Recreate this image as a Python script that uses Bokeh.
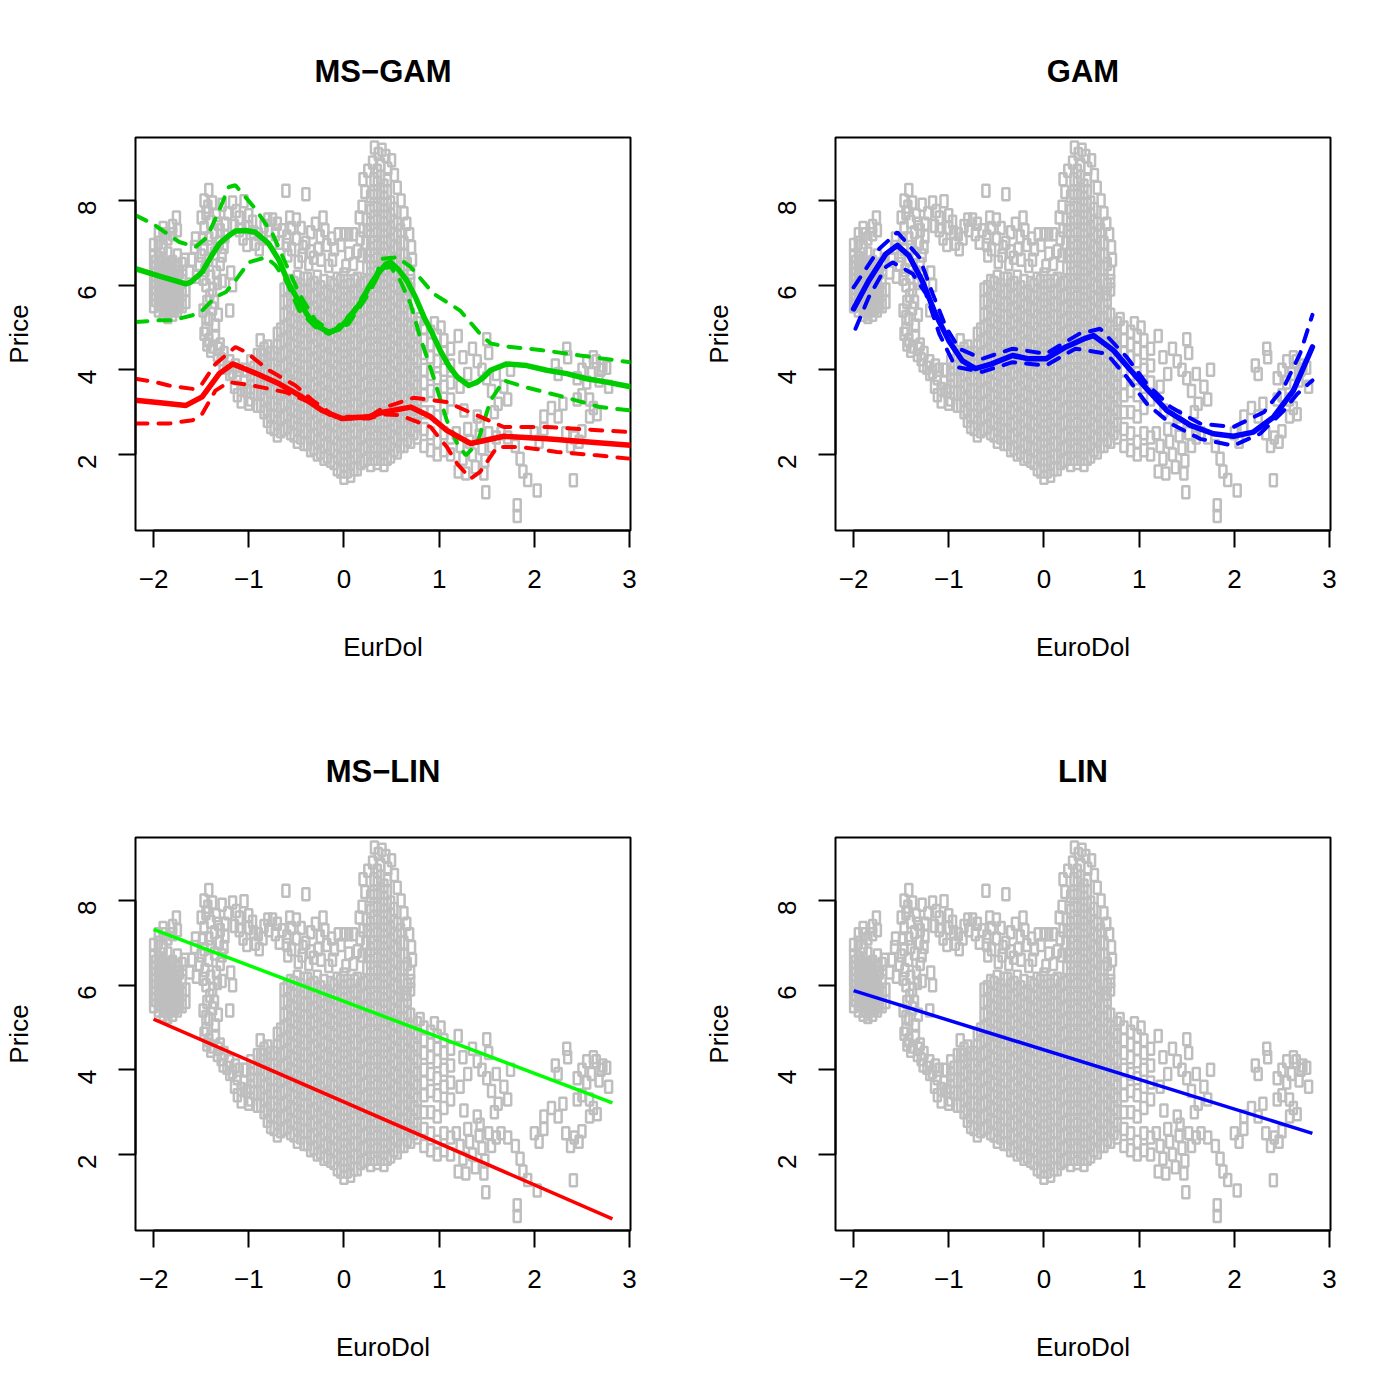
import math
from bokeh.plotting import figure
from bokeh.models import Range1d, FixedTicker
from bokeh.layouts import gridplot
from bokeh.embed import file_html
from bokeh.resources import INLINE

FONT = "Liberation Sans"

# ---------------- scatter data (EurDol, Price) ----------------
left_cluster = [(-2.0,5.5),(-2.0,5.8),(-2.0,6.1),(-2.0,6.4),(-2.0,6.7),(-2.0,6.95),
    (-1.95,5.4),(-1.95,5.65),(-1.95,5.9),(-1.95,6.15),(-1.95,6.4),(-1.95,6.65),(-1.95,7.0),(-1.95,7.2),
    (-1.9,5.3),(-1.9,5.55),(-1.9,5.8),(-1.9,6.05),(-1.9,6.3),(-1.9,6.6),(-1.9,6.9),(-1.9,7.2),(-1.9,7.35),
    (-1.85,5.25),(-1.85,5.5),(-1.85,5.75),(-1.85,6.0),(-1.85,6.25),(-1.85,6.5),(-1.85,6.75),(-1.85,7.1),
    (-1.8,5.3),(-1.8,5.55),(-1.8,5.8),(-1.8,6.05),(-1.8,6.3),(-1.8,6.55),(-1.8,7.2),(-1.8,7.4),
    (-1.75,5.4),(-1.75,5.7),(-1.75,5.95),(-1.75,6.2),(-1.75,6.45),(-1.75,6.7),(-1.75,7.3),(-1.76,7.6),
    (-1.7,5.5),(-1.7,5.8),(-1.7,6.1),(-1.7,6.5),(-1.66,5.6),(-1.66,5.9),(-1.67,6.6),
    (-1.98,5.65),(-1.98,5.95),(-1.98,6.25),(-1.98,6.55),(-1.93,5.55),(-1.93,5.8),(-1.93,6.05),(-1.93,6.3),
    (-1.93,6.55),(-1.88,5.4),(-1.88,5.65),(-1.88,5.9),(-1.88,6.15),(-1.88,6.45),(-1.83,5.4),(-1.83,5.65),
    (-1.83,5.9),(-1.83,6.15),(-1.83,6.4),(-1.78,5.45),(-1.78,5.7),(-1.78,5.95),(-1.78,6.2),(-1.73,5.55),
    (-1.73,5.85),(-1.73,6.3)]

second_cluster = [(-1.62,6.3),(-1.6,6.6),(-1.57,6.9),(-1.55,6.2),(-1.52,6.5),(-1.56,7.1),
    (-1.47,8.0),(-1.42,8.25),(-1.38,7.95),(-1.45,7.7),(-1.4,7.5),(-1.34,7.65),(-1.47,7.35),(-1.42,7.1),
    (-1.36,7.25),(-1.31,7.0),(-1.47,6.85),(-1.42,6.6),(-1.36,6.75),(-1.3,6.5),(-1.46,6.35),(-1.4,6.2),
    (-1.34,6.3),(-1.28,6.1),(-1.45,6.0),(-1.38,5.9),(-1.44,5.6),(-1.38,5.45),(-1.42,5.2),(-1.35,5.05),
    (-1.45,4.95),(-1.32,5.3),(-1.19,6.3),(-1.17,6.0),(-1.2,5.4),(-1.26,6.9),(-1.5,7.6),
    (-1.48,7.1),(-1.43,7.85),(-1.4,6.9),(-1.33,6.05),(-1.32,7.45),(-1.28,6.7),(-1.5,6.7),(-1.48,6.15),
    (-1.41,5.75),(-1.36,5.6),(-1.48,5.4),(-1.45,5.25)]

upper_arc = [(-1.28,7.9),(-1.22,7.7),(-1.25,7.45),(-1.17,7.95),(-1.05,7.98),(-1.1,7.6),(-1.1,7.3),
    (-1.0,7.35),(-1.06,7.1),(-1.02,6.95),(-0.96,7.5),(-0.9,7.2),(-0.93,6.98),(-0.89,6.85),(-0.84,7.4),
    (-0.79,7.3),(-0.75,7.55),(-0.72,7.2),(-0.65,7.3),(-0.6,7.15),(-0.61,8.23),(-0.4,8.15),(-0.57,7.6),
    (-0.5,7.55),(-0.45,7.35),(-0.5,7.1),(-0.43,6.9),(-0.6,6.95),(-0.59,6.7),(-0.44,6.7),(-0.37,6.5),
    (-0.32,6.65),(-0.3,7.45),(-0.22,7.6),(-0.25,7.15),(-0.18,6.95),(-0.27,6.85),(-0.24,6.6),(-0.16,6.45),
    (-0.12,6.6),(-0.06,7.2),(0.0,7.2),(0.05,7.2),(0.1,7.2),(-0.03,6.95),(0.05,6.75),(0.1,6.5),(0.02,6.45),
    (0.14,6.8),(0.11,6.1),(0.2,8.5),(0.22,8.2),(0.19,7.85),(0.24,7.55),(0.2,7.3),(0.23,7.0),(0.19,6.7),
    (0.24,6.4),(-1.3,7.3),(-1.25,7.15),(-1.15,7.4),(-1.13,7.75),(-1.0,7.65),(-0.95,7.25),(-0.85,7.1),
    (-0.8,7.55),(-0.7,7.45),(-0.68,7.0),(-0.55,7.35),(-0.55,6.85),(-0.48,6.55),(-0.4,7.0),(-0.35,7.25),
    (-0.35,6.8),(-0.2,7.3),(-0.1,6.85),(-0.13,7.1)]

spike_top = [(0.32,9.25),(0.36,9.1),(0.4,9.2),(0.44,9.05),(0.5,8.95),(0.46,8.75),(0.53,8.6),(0.56,8.3),
    (0.6,8.0),(0.63,7.7),(0.66,7.45),(0.69,7.2),(0.71,6.9),(0.72,6.6),(0.7,6.1),(0.66,5.8),(0.3,8.9),
    (0.28,8.1),(0.16,7.6),(0.17,7.1),(0.25,8.7)]

lower_band = [(-1.47,4.85),(-1.42,4.7),(-1.35,4.8),(-1.3,4.6),(-1.4,4.45),(-1.33,4.35),(-1.26,4.4),
    (-1.2,4.2),(-1.14,4.1),(-1.27,4.1),(-1.2,3.9),(-1.12,3.8),(-1.05,3.7),(-1.04,4.0),(-1.12,3.4),
    (-1.08,3.25),(-1.08,3.55),(-0.88,4.7),(-0.8,4.55),(-0.85,4.35),
    (-1.44,4.6),(-1.38,4.55),(-1.32,4.5),(-1.29,4.25),(-1.23,4.05),(-1.17,3.95),(-1.15,3.6),(-1.1,4.0),
    (-1.02,3.5),(-1.0,3.2)]

central_x = [-0.98, -0.91, -0.84, -0.77, -0.70, -0.63, -0.56, -0.49, -0.42, -0.35, -0.28, -0.21, -0.14,
             -0.07, 0.0, 0.07, 0.14, 0.21, 0.28, 0.35, 0.42, 0.49, 0.56, 0.63, 0.70, 0.77, 0.84, 0.91,
             0.98, 1.05, 1.12]
central_prices = [
    [3.3, 3.6, 3.9, 4.2],
    [3.15, 3.45, 3.75, 4.05, 4.35],
    [3.0, 3.3, 3.6, 3.9, 4.2, 4.5],
    [2.65, 2.9, 3.2, 3.5, 3.8, 4.1, 4.4],
    [2.45, 2.75, 3.05, 3.35, 3.65, 3.95, 4.25, 4.55, 4.85],
    [2.6, 2.9, 3.2, 3.5, 3.8, 4.1, 4.4, 4.7, 5.0, 5.3, 5.6, 5.9],
    [2.5, 2.8, 3.1, 3.4, 3.7, 4.0, 4.3, 4.6, 4.9, 5.2, 5.5, 5.8, 6.1],
    [2.3, 2.6, 2.9, 3.2, 3.5, 3.8, 4.1, 4.4, 4.7, 5.0, 5.3, 5.6, 5.9, 6.2],
    [2.25, 2.55, 2.85, 3.15, 3.45, 3.75, 4.05, 4.35, 4.65, 4.95, 5.25, 5.55, 5.85, 6.15],
    [2.1, 2.4, 2.7, 3.0, 3.3, 3.6, 3.9, 4.2, 4.5, 4.8, 5.1, 5.4, 5.7, 6.0],
    [2.0, 2.3, 2.6, 2.9, 3.2, 3.5, 3.8, 4.1, 4.4, 4.7, 5.0, 5.3, 5.6, 5.9, 6.2],
    [1.9, 2.2, 2.5, 2.8, 3.1, 3.4, 3.7, 4.0, 4.3, 4.6, 4.9, 5.2, 5.5, 5.8, 6.1],
    [1.85, 2.15, 2.45, 2.75, 3.05, 3.35, 3.65, 3.95, 4.25, 4.55, 4.85, 5.15, 5.45, 5.75, 6.05],
    [1.65, 1.95, 2.25, 2.55, 2.85, 3.15, 3.45, 3.75, 4.05, 4.35, 4.65, 4.95, 5.25, 5.55, 5.85, 6.15],
    [1.45, 1.75, 2.05, 2.35, 2.65, 2.95, 3.25, 3.55, 3.85, 4.15, 4.45, 4.75, 5.05, 5.35, 5.65, 5.95, 6.25],
    [1.5, 1.8, 2.1, 2.4, 2.7, 3.0, 3.3, 3.6, 3.9, 4.2, 4.5, 4.8, 5.1, 5.4, 5.7, 6.0],
    [1.65, 1.95, 2.25, 2.55, 2.85, 3.15, 3.45, 3.75, 4.05, 4.35, 4.65, 4.95, 5.25, 5.55, 5.85, 6.15],
    [1.85, 2.15, 2.45, 2.75, 3.05, 3.35, 3.65, 3.95, 4.25, 4.55, 4.85, 5.15, 5.45, 5.75, 6.05],
    [1.75, 2.05, 2.35, 2.65, 2.95, 3.25, 3.55, 3.85, 4.15, 4.45, 4.75, 5.05, 5.35, 5.65, 5.95, 6.25,
     6.55, 6.85, 7.15, 7.45, 7.75],
    [1.8, 2.1, 2.4, 2.7, 3.0, 3.3, 3.6, 3.9, 4.2, 4.5, 4.8, 5.1, 5.4, 5.7, 6.0, 6.3, 6.6, 6.9, 7.2, 7.5,
     7.8, 8.1, 8.4, 8.7],
    [1.75, 2.05, 2.35, 2.65, 2.95, 3.25, 3.55, 3.85, 4.15, 4.45, 4.75, 5.05, 5.35, 5.65, 5.95, 6.25,
     6.55, 6.85, 7.15, 7.45, 7.75, 8.05, 8.35],
    [1.95, 2.25, 2.55, 2.85, 3.15, 3.45, 3.75, 4.05, 4.35, 4.65, 4.95, 5.25, 5.55, 5.85, 6.15, 6.45,
     6.75, 7.05, 7.35, 7.65, 7.95],
    [2.05, 2.35, 2.65, 2.95, 3.25, 3.55, 3.85, 4.15, 4.45, 4.75, 5.05, 5.35, 5.65, 5.95, 6.25, 6.55,
     6.85, 7.15, 7.45],
    [2.2, 2.5, 2.8, 3.1, 3.4, 3.7, 4.0, 4.3, 4.6, 4.9, 5.2, 5.5, 5.8, 6.1, 6.4, 6.7, 7.0],
    [2.3, 2.6, 2.9, 3.2, 3.5, 3.8, 4.1, 4.4, 4.7, 5.0, 5.3, 5.9, 6.3],
    [2.4, 2.7, 3.0, 3.3, 3.6, 3.9, 4.2, 4.5, 4.8, 5.1],
    [2.2, 2.6, 3.0, 3.4, 3.7, 4.0, 4.4, 4.7, 5.0],
    [2.1, 2.5, 3.0, 3.5, 3.9, 4.3, 4.6, 4.9],
    [2.0, 2.3, 2.9, 3.4, 3.8, 4.2, 4.5, 4.8],
    [2.1, 2.5, 3.1, 3.6, 4.0, 4.4, 4.7],
    [2.0, 2.4, 3.3, 3.7, 4.1, 4.5],
]

# second, interleaved set of points in the dense central mass
central_x2 = [-0.945, -0.875, -0.805, -0.735, -0.665, -0.595, -0.525, -0.455, -0.385, -0.315, -0.245,
              -0.175, -0.105, -0.035, 0.035, 0.105, 0.175, 0.245, 0.315, 0.385, 0.455, 0.525, 0.595,
              0.665, 0.735]
central_prices2 = [
    [3.45, 3.75, 4.05],
    [3.15, 3.45, 3.75, 4.05, 4.35],
    [2.8, 3.05, 3.35, 3.65, 3.95, 4.25],
    [2.6, 2.9, 3.2, 3.5, 3.8, 4.1, 4.4],
    [2.55, 2.85, 3.15, 3.45, 3.75, 4.05, 4.35, 4.65, 4.95],
    [2.65, 2.95, 3.25, 3.55, 3.85, 4.15, 4.45, 4.75, 5.05, 5.35, 5.65, 5.95],
    [2.45, 2.75, 3.05, 3.35, 3.65, 3.95, 4.25, 4.55, 4.85, 5.15, 5.45, 5.75, 6.05],
    [2.4, 2.7, 3.0, 3.3, 3.6, 3.9, 4.2, 4.5, 4.8, 5.1, 5.4, 5.7, 6.0],
    [2.25, 2.55, 2.85, 3.15, 3.45, 3.75, 4.05, 4.35, 4.65, 4.95, 5.25, 5.55, 5.85, 6.15],
    [2.15, 2.45, 2.75, 3.05, 3.35, 3.65, 3.95, 4.25, 4.55, 4.85, 5.15, 5.45, 5.75, 6.05],
    [2.05, 2.35, 2.65, 2.95, 3.25, 3.55, 3.85, 4.15, 4.45, 4.75, 5.05, 5.35, 5.65, 5.95],
    [1.95, 2.25, 2.55, 2.85, 3.15, 3.45, 3.75, 4.05, 4.35, 4.65, 4.95, 5.25, 5.55, 5.85],
    [1.8, 2.1, 2.4, 2.7, 3.0, 3.3, 3.6, 3.9, 4.2, 4.5, 4.8, 5.1, 5.4, 5.7, 6.0],
    [1.6, 1.9, 2.2, 2.5, 2.8, 3.1, 3.4, 3.7, 4.0, 4.3, 4.6, 4.9, 5.2, 5.5, 5.8, 6.1],
    [1.6, 1.9, 2.2, 2.5, 2.8, 3.1, 3.4, 3.7, 4.0, 4.3, 4.6, 4.9, 5.2, 5.5, 5.8, 6.1],
    [1.65, 1.95, 2.25, 2.55, 2.85, 3.15, 3.45, 3.75, 4.05, 4.35, 4.65, 4.95, 5.25, 5.55, 5.85],
    [1.8, 2.1, 2.4, 2.7, 3.0, 3.3, 3.6, 3.9, 4.2, 4.5, 4.8, 5.1, 5.4, 5.7, 6.0],
    [1.9, 2.2, 2.5, 2.8, 3.1, 3.4, 3.7, 4.0, 4.3, 4.6, 4.9, 5.2, 5.5, 5.8, 6.1, 6.7, 7.3],
    [1.9, 2.2, 2.5, 2.8, 3.1, 3.4, 3.7, 4.0, 4.3, 4.6, 4.9, 5.2, 5.5, 5.8, 6.1, 6.4, 6.7, 7.0, 7.3,
     7.6, 7.9, 8.2, 8.5],
    [1.9, 2.2, 2.5, 2.8, 3.1, 3.4, 3.7, 4.0, 4.3, 4.6, 4.9, 5.2, 5.5, 5.8, 6.1, 6.4, 6.7, 7.0, 7.3,
     7.6, 7.9, 8.2, 8.55, 8.85],
    [1.9, 2.2, 2.5, 2.8, 3.1, 3.4, 3.7, 4.0, 4.3, 4.6, 4.9, 5.2, 5.5, 5.8, 6.1, 6.4, 6.7, 7.0, 7.3,
     7.6, 7.9, 8.2, 8.5],
    [2.1, 2.4, 2.7, 3.0, 3.3, 3.6, 3.9, 4.2, 4.5, 4.8, 5.1, 5.4, 5.7, 6.0, 6.3, 6.6, 6.9, 7.2, 7.5, 7.8],
    [2.2, 2.5, 2.8, 3.1, 3.4, 3.7, 4.0, 4.3, 4.6, 4.9, 5.2, 5.5, 5.8, 6.1, 6.4, 6.7, 7.0, 7.3],
    [2.35, 2.65, 2.95, 3.25, 3.55, 3.85, 4.15, 4.45, 4.75, 5.05, 5.35, 5.65, 6.0, 6.5],
    [2.5, 2.8, 3.1, 3.4, 3.7, 4.0, 4.3, 4.6, 4.9],
]

right_region = [(1.18,2.5),(1.22,2.2),(1.25,1.9),(1.3,2.6),(1.32,2.3),(1.35,2.0),(1.38,1.7),(1.42,2.45),
    (1.45,2.15),(1.48,1.85),(1.52,2.5),(1.55,2.2),(1.6,2.4),(1.2,1.6),(1.28,1.55),(1.26,3.04),(1.4,2.9),
    (1.43,2.7),(1.35,4.5),(1.4,4.2),(1.45,4.0),(1.5,4.72),(1.52,4.4),(1.5,3.8),(1.55,3.5),(1.6,3.9),
    (1.62,3.2),(1.68,3.6),(1.72,3.3),(1.75,4.0),(1.58,3.0),(1.2,4.8),(1.25,4.3),(1.22,3.6),(1.3,3.9),
    (1.47,1.55),(1.49,1.11),(1.65,2.5),(1.72,2.4),(1.8,2.2),(1.85,1.9),(1.88,1.6),(1.93,1.4),
    (1.82,0.8),(1.82,0.55),(2.03,1.15),(2.0,2.5),(2.05,2.3),(2.1,2.6),(2.1,2.9),(2.18,3.1),(2.25,2.9),
    (2.3,3.2),(2.22,4.1),(2.25,3.9),(2.34,4.5),(2.35,4.3),(2.33,2.5),(2.38,2.2),(2.42,2.4),(2.47,2.3),
    (2.5,2.55),(2.41,1.39),(2.5,4.0),(2.55,4.2),(2.6,3.9),(2.65,4.2),(2.7,4.0),(2.55,3.7),(2.62,4.3),
    (2.68,3.75),(2.72,4.1),(2.45,3.8),(2.5,3.4),(2.58,3.3),(2.62,3.1),(2.66,2.95),(2.76,4.05),
    (2.78,3.6),(2.45,3.3),(2.58,2.9),(0.8,5.2),(0.95,5.1),(1.02,5.0)]

# ---------------- fitted curves ----------------
msgam_g_x = [-2.19, -1.93, -1.66, -1.61, -1.49, -1.40, -1.31, -1.21, -1.14, -1.03, -0.93, -0.79, -0.68,
             -0.58, -0.47, -0.37, -0.26, -0.16, -0.05, 0.09, 0.19, 0.26, 0.33, 0.44, 0.49, 0.58, 0.66,
             0.75, 0.84, 0.93, 1.01, 1.10, 1.19, 1.31, 1.40, 1.47, 1.54, 1.71, 1.92, 2.13, 2.34, 2.55,
             2.76, 3.01]
msgam_g_y = [6.39, 6.21, 6.03, 6.07, 6.31, 6.66, 6.98, 7.17, 7.28, 7.29, 7.25, 6.98, 6.58, 6.03, 5.6,
             5.25, 5.01, 4.89, 4.97, 5.33, 5.64, 5.95, 6.19, 6.5, 6.54, 6.35, 6.11, 5.72, 5.25, 4.85,
             4.46, 4.1, 3.83, 3.63, 3.71, 3.83, 3.99, 4.14, 4.1, 3.99, 3.91, 3.79, 3.71, 3.6]
msgam_gu_x = [-2.19, -2.01, -1.73, -1.56, -1.44, -1.31, -1.21, -1.14, -0.93, -0.75, -0.61, -0.47, -0.3,
              -0.12, 0.09, 0.33, 0.4, 0.56, 0.7, 0.94, 1.22, 1.43, 1.54, 1.71, 2.06, 2.48, 2.87, 3.01]
msgam_gu_y = [7.65, 7.45, 7.02, 6.9, 7.13, 7.77, 8.32, 8.36, 7.8, 7.21, 6.5, 5.8, 5.17, 4.89, 5.37,
              6.19, 6.62, 6.66, 6.43, 5.8, 5.4, 4.85, 4.62, 4.55, 4.47, 4.34, 4.22, 4.18]
msgam_gl_x = [-2.19, -1.94, -1.8, -1.59, -1.49, -1.35, -1.24, -1.14, -1.0, -0.82, -0.72, -0.61, -0.47,
              -0.3, -0.16, 0.05, 0.26, 0.4, 0.49, 0.59, 0.7, 0.8, 0.94, 1.08, 1.19, 1.28, 1.4, 1.54,
              1.68, 1.89, 2.31, 2.69, 3.01]
msgam_gl_y = [5.13, 5.17, 5.17, 5.29, 5.4, 5.72, 5.84, 6.11, 6.54, 6.66, 6.47, 6.11, 5.4, 5.01, 4.85,
              5.09, 5.8, 6.4, 6.43, 6.11, 5.56, 4.77, 3.83, 2.81, 2.26, 1.98, 2.26, 3.28, 3.75, 3.6,
              3.36, 3.12, 3.04]
msgam_r_x = [-2.19, -1.93, -1.66, -1.49, -1.31, -1.17, -0.96, -0.68, -0.44, -0.23, -0.02, 0.26, 0.41,
             0.7, 0.91, 1.08, 1.33, 1.68, 2.13, 3.01]
msgam_r_y = [3.28, 3.22, 3.16, 3.36, 3.91, 4.14, 3.95, 3.67, 3.36, 3.04, 2.85, 2.89, 3.0, 3.12, 2.89,
             2.57, 2.26, 2.43, 2.37, 2.22]
msgam_ru_x = [-2.19, -1.98, -1.84, -1.59, -1.49, -1.35, -1.14, -1.03, -0.79, -0.51, -0.33, -0.09, 0.26,
              0.41, 0.73, 1.08, 1.36, 1.68, 2.13, 2.55, 3.01]
msgam_ru_y = [3.79, 3.71, 3.63, 3.55, 3.67, 4.14, 4.54, 4.42, 3.99, 3.63, 3.28, 2.89, 2.89, 3.1, 3.34,
              3.24, 2.96, 2.65, 2.65, 2.59, 2.53]
msgam_rl_x = [-2.19, -1.84, -1.59, -1.49, -1.35, -1.21, -0.96, -0.61, -0.33, -0.09, 0.26, 0.41, 0.59,
              0.91, 1.08, 1.19, 1.33, 1.43, 1.61, 1.85, 2.24, 2.66, 3.01]
msgam_rl_y = [2.73, 2.73, 2.81, 2.96, 3.51, 3.71, 3.63, 3.47, 3.2, 2.85, 2.85, 2.95, 2.93, 2.65, 2.18,
              1.78, 1.43, 1.59, 2.18, 2.18, 2.06, 1.98, 1.9]

gam_x = [-2.0, -1.84, -1.66, -1.54, -1.42, -1.28, -1.14, -1.0, -0.86, -0.72, -0.55, -0.33, -0.16, 0.02,
         0.23, 0.44, 0.52, 0.73, 0.91, 1.08, 1.29, 1.54, 1.78, 1.99, 2.2, 2.41, 2.62, 2.82]
gam_y = [5.44, 6.11, 6.74, 6.94, 6.7, 6.11, 5.32, 4.69, 4.22, 4.03, 4.14, 4.34, 4.26, 4.26, 4.54, 4.75,
         4.81, 4.46, 3.99, 3.55, 3.04, 2.69, 2.49, 2.43, 2.53, 2.88, 3.51, 4.54]
gam_u_x = [-2.0, -1.73, -1.54, -1.31, -1.17, -1.03, -0.89, -0.65, -0.33, 0.02, 0.37, 0.59, 0.87, 1.08,
           1.33, 1.64, 1.99, 2.31, 2.52, 2.69, 2.82]
gam_u_y = [5.95, 6.86, 7.25, 6.66, 5.8, 5.01, 4.5, 4.26, 4.5, 4.38, 4.85, 4.97, 4.3, 3.67, 3.12, 2.73,
           2.65, 3.0, 3.59, 4.38, 5.3]
gam_l_x = [-1.98, -1.84, -1.66, -1.59, -1.38, -1.24, -1.1, -0.93, -0.65, -0.33, 0.02, 0.33, 0.66, 0.87,
           1.08, 1.33, 1.64, 1.99, 2.27, 2.52, 2.66, 2.82]
gam_l_y = [4.97, 5.72, 6.43, 6.54, 6.27, 5.8, 4.85, 4.07, 3.95, 4.18, 4.1, 4.5, 4.38, 3.83, 3.2, 2.73,
           2.37, 2.21, 2.49, 3.04, 3.43, 3.75]

mslin_x = [-2.0, 2.82]
mslin_green_y = [7.32, 3.22]
mslin_red_y = [5.2, 0.48]
lin_x = [-2.0, 2.82]
lin_y = [5.87, 2.5]

x_ticks = [-2, -1, 0, 1, 2, 3]
y_ticks = [2, 4, 6, 8]
titles = ["MS\u2212GAM", "GAM", "MS\u2212LIN", "LIN"]
xlabels = ["EurDol", "EuroDol", "EuroDol", "EuroDol"]

# ---------------- build scatter arrays ----------------
pts = left_cluster + second_cluster + upper_arc + spike_top + lower_band + right_region
for cx, ys in zip(central_x, central_prices):
    pts += [(cx, yy) for yy in ys]
for cx, ys in zip(central_x2, central_prices2):
    pts += [(cx, yy) for yy in ys]
sx = [p_[0] for p_ in pts]
sy = [p_[1] for p_ in pts]


def make(title, xlabel, bl, br, bt, bb, w, h):
    p = figure(width=w, height=h, x_range=Range1d(-2.19, 3.01), y_range=Range1d(0.205, 9.488),
               output_backend="svg", toolbar_location=None,
               min_border_left=bl, min_border_right=br, min_border_top=bt, min_border_bottom=bb,
               title=title, x_axis_label=xlabel, y_axis_label="Price")
    p.xgrid.visible = False
    p.ygrid.visible = False
    p.outline_line_color = "black"
    p.outline_line_width = 2
    p.background_fill_color = "white"
    p.border_fill_color = "white"
    p.title.text_font = FONT
    p.title.text_font_size = "31px"
    p.title.text_font_style = "bold"
    p.title.text_color = "black"
    p.title.align = "center"
    p.title.standoff = 97
    for ax in (p.xaxis[0], p.yaxis[0]):
        ax.axis_line_width = 2
        ax.axis_line_color = "black"
        ax.major_tick_line_width = 2
        ax.major_tick_line_color = "black"
        ax.major_tick_out = 17
        ax.major_tick_in = 0
        ax.minor_tick_line_color = None
        ax.major_label_text_font = FONT
        ax.major_label_text_font_size = "26px"
        ax.major_label_text_color = "black"
        ax.axis_label_text_font = FONT
        ax.axis_label_text_font_size = "26px"
        ax.axis_label_text_font_style = "normal"
        ax.axis_label_text_color = "black"
    xa = p.xaxis[0]
    xa.ticker = FixedTicker(ticks=x_ticks)
    xa.bounds = (-2, 3)
    xa.major_label_overrides = {-2: "\u22122", -1: "\u22121"}
    xa.major_label_standoff = 22
    xa.axis_label_standoff = 41
    ya = p.yaxis[0]
    ya.ticker = FixedTicker(ticks=y_ticks)
    ya.bounds = (2, 8)
    ya.major_label_orientation = math.pi / 2
    ya.major_label_standoff = 31
    ya.axis_label_standoff = 33
    p.rect(sx, sy, width=7, height=12, width_units="screen", height_units="screen",
           fill_color=None, line_color="#BEBEBE", line_width=2.5)
    return p


p1 = make(titles[0], xlabels[0], 135, 70, 137, 170, 700, 700)
p2 = make(titles[1], xlabels[1], 135, 67, 137, 170, 697, 700)
p3 = make(titles[2], xlabels[2], 135, 70, 137, 167, 700, 697)
p4 = make(titles[3], xlabels[3], 135, 67, 137, 167, 697, 697)

G3 = "#00CD00"
DASH = "12 11"
# MS-GAM
p1.line(msgam_g_x, msgam_g_y, line_color=G3, line_width=5.5, line_cap="round", line_join="round")
p1.line(msgam_gu_x, msgam_gu_y, line_color=G3, line_width=4, line_dash=DASH, line_cap="round")
p1.line(msgam_gl_x, msgam_gl_y, line_color=G3, line_width=4, line_dash=DASH, line_cap="round")
p1.line(msgam_r_x, msgam_r_y, line_color="#FF0000", line_width=5.5, line_cap="round", line_join="round")
p1.line(msgam_ru_x, msgam_ru_y, line_color="#FF0000", line_width=4, line_dash=DASH, line_cap="round")
p1.line(msgam_rl_x, msgam_rl_y, line_color="#FF0000", line_width=4, line_dash=DASH, line_cap="round")
# GAM
p2.line(gam_x, gam_y, line_color="#0000FF", line_width=5.5, line_cap="round", line_join="round")
p2.line(gam_u_x, gam_u_y, line_color="#0000FF", line_width=4, line_dash=DASH, line_cap="round")
p2.line(gam_l_x, gam_l_y, line_color="#0000FF", line_width=4, line_dash=DASH, line_cap="round")
# MS-LIN
p3.line(mslin_x, mslin_green_y, line_color="#00FF00", line_width=3.5)
p3.line(mslin_x, mslin_red_y, line_color="#FF0000", line_width=3.5)
# LIN
p4.line(lin_x, lin_y, line_color="#0000FF", line_width=3.5)

grid = gridplot([[p1, p2], [p3, p4]], toolbar_location=None)
open("out.html", "w").write(file_html(grid, INLINE))
